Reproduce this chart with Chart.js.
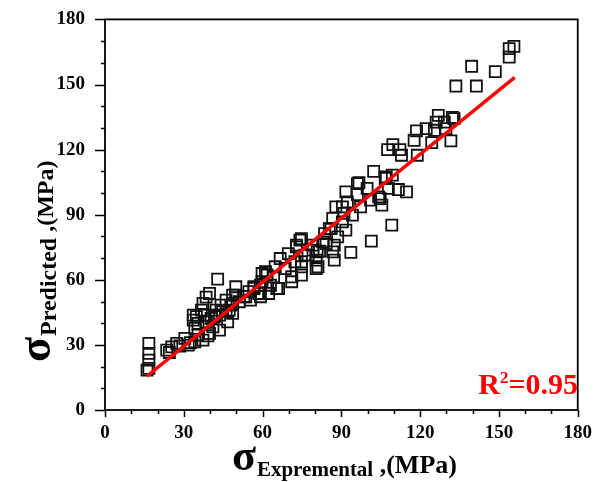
<!DOCTYPE html>
<html>
<head>
<meta charset="utf-8">
<script src="https://cdn.jsdelivr.net/npm/chart.js@4.4.0/dist/chart.umd.min.js"></script>
<style>
  html, body { margin: 0; padding: 0; background: #fff; }
  #wrap { width: 596px; height: 482px; position: relative; }
</style>
</head>
<body>
<div id="wrap"><canvas id="chart" width="596" height="482"></canvas></div>
<script>
// Datos (MPa)
const EXP_VALUES = [
  16.0, 16.7, 16.7, 16.7, 16.7, 23.5, 24.5, 25.4, 27.3, 28.5,
  30.4, 31.7, 32.5, 34.2, 35.4, 37.3, 34.2, 33.6, 34.8, 33.6,
  36.7, 37.3, 39.8, 38.5, 35.4, 38.6, 40.4, 41.7, 43.6, 41.1,
  43.6, 39.8, 39.2, 46.7, 44.8, 48.6, 49.8, 47.3, 37.9, 42.9,
  42.3, 46.1, 41.7, 48.6, 44.2, 47.9, 46.1, 51.1, 55.4, 48.6,
  53.6, 58.6, 62.3, 49.8, 56.7, 65.4, 59.8, 71.1, 64.2, 61.1,
  71.1, 74.8, 59.8, 61.7, 59.2, 64.8, 68.6, 66.7, 72.3, 74.8,
  80.4, 69.8, 72.9, 77.3, 80.8, 74.2, 66.1, 63.0, 76.1, 81.7,
  86.7, 93.6, 87.3, 80.4, 74.8, 81.1, 72.9, 79.2, 84.2, 87.3,
  74.8, 88.6, 83.6, 86.1, 91.7, 90.4, 86.7, 91.0, 94.2, 87.9,
  97.3, 90.4, 92.3, 101.1, 105.4, 104.8, 96.1, 91.7, 99.8, 96.1,
  106.7, 102.3, 109.2, 101.4, 96.7, 107.9, 111.7, 114.8, 104.2, 107.1,
  109.4, 109.6, 107.6, 112.3, 112.9, 118.9, 117.7, 124.4, 131.7, 122.3,
  118.6, 129.8, 125.4, 126.9, 126.1, 129.2, 132.9, 132.3, 133.6, 141.4,
  139.6, 148.6, 153.9, 155.7, 153.9, 52.9, 54.8, 56.7, 59.2, 82.9,
  79.2, 85.4
];
const PRED_VALUES = [
  18.4, 19.2, 23.0, 26.1, 30.7, 27.6, 26.5, 29.1, 30.7, 29.5,
  33.0, 29.9, 31.0, 31.4, 34.5, 32.2, 37.6, 41.4, 43.0, 43.7,
  46.0, 49.1, 53.7, 52.0, 39.9, 40.6, 42.2, 43.7, 43.7, 38.3,
  36.8, 35.3, 34.2, 40.6, 45.3, 49.1, 52.9, 46.0, 43.7, 60.3,
  46.0, 45.3, 43.0, 44.5, 48.3, 48.3, 50.6, 49.9, 50.6, 52.9,
  52.2, 53.7, 53.7, 56.8, 56.8, 56.0, 59.1, 59.1, 61.4, 63.7,
  61.4, 62.2, 62.9, 62.2, 52.2, 66.0, 65.2, 69.8, 68.3, 66.0,
  65.2, 72.1, 75.2, 71.4, 72.9, 78.3, 56.0, 57.5, 71.4, 73.2,
  72.9, 72.6, 69.1, 69.1, 68.3, 66.0, 76.0, 76.0, 76.7, 76.0,
  79.0, 79.8, 81.3, 83.6, 82.9, 86.7, 88.3, 90.6, 89.8, 93.6,
  93.6, 93.6, 95.9, 96.7, 94.4, 97.4, 99.3, 100.5, 102.1, 104.3,
  106.7, 110.0, 85.2, 77.8, 104.8, 102.1, 101.6, 100.5, 98.2, 107.4,
  108.2, 122.3, 120.0, 120.0, 117.4, 117.4, 124.3, 123.2, 124.0, 129.7,
  128.6, 129.7, 128.9, 135.8, 132.7, 132.7, 134.3, 134.8, 149.3, 149.3,
  158.4, 155.9, 166.5, 167.6, 162.6, 52.2, 54.5, 56.0, 57.5, 77.5,
  73.7, 83.6
];
// Recta de ajuste
const FIT_X = [16, 156];
const FIT_Y = [15.6, 153.3];
const AXIS_MIN = 0;
const AXIS_MAX = 180;
const TICK_STEP = 30;
const R2_TEXT = '0.95';

const SERIF = '"Liberation Serif", "Times New Roman", serif';

// Título con subíndice: σ + sub + ,(MPa)
function drawTitle(ctx, sub, bx, by, f) {
  ctx.font = 'bold ' + f.sigma + 'px ' + SERIF;
  ctx.fillText('σ', bx, by);
  let cx = bx + ctx.measureText('σ').width + 1;
  ctx.font = 'bold ' + f.sub + 'px ' + SERIF;
  ctx.fillText(sub, cx, by + f.subDy);
  cx += ctx.measureText(sub).width;
  ctx.font = 'bold ' + f.unit + 'px ' + SERIF;
  ctx.fillText(' ,(MPa)', cx, by + f.unitDy);
}

// Marco, marcas de ejes, títulos y R²
const decor = {
  id: 'decor',
  afterDraw(chart) {
    const { ctx, chartArea: a, scales: { x, y } } = chart;
    ctx.save();
    ctx.strokeStyle = '#000';
    ctx.lineWidth = 1.8;
    ctx.strokeRect(a.left, a.top, a.right - a.left, a.bottom - a.top);

    ctx.lineWidth = 1.5;
    for (let v = AXIS_MIN; v <= AXIS_MAX; v += 10) {
      const major = v % TICK_STEP === 0;
      const px = Math.round(x.getPixelForValue(v)) + 0.5;
      ctx.beginPath();
      ctx.moveTo(px, a.bottom);
      ctx.lineTo(px, a.bottom + (major ? 7 : 4));
      ctx.stroke();
      const py = Math.round(y.getPixelForValue(v)) + 0.5;
      ctx.beginPath();
      ctx.moveTo(a.left, py);
      ctx.lineTo(a.left - (major ? 10 : 4), py);
      ctx.stroke();
    }

    ctx.fillStyle = '#000';
    ctx.textBaseline = 'alphabetic';
    drawTitle(ctx, 'Expremental', 232, 470, { sigma: 44, sub: 21, subDy: 6, unit: 26, unitDy: 3 });
    ctx.save();
    ctx.translate(50, 362);
    ctx.rotate(-Math.PI / 2);
    drawTitle(ctx, 'Predicted', 0, 0, { sigma: 46, sub: 24, subDy: 6, unit: 24, unitDy: 3 });
    ctx.restore();

    // R²
    ctx.fillStyle = '#ff0000';
    ctx.font = 'bold 30px ' + SERIF;
    const tail = '=' + R2_TEXT;
    const wR = ctx.measureText('R').width;
    const wT = ctx.measureText(tail).width;
    ctx.font = 'bold 17px ' + SERIF;
    const w2 = ctx.measureText('2').width;
    const right = 578, base = 394;
    let sx = right - wT - w2 - wR;
    ctx.font = 'bold 30px ' + SERIF;
    ctx.fillText('R', sx, base);
    sx += wR;
    ctx.font = 'bold 17px ' + SERIF;
    ctx.fillText('2', sx, base - 11);
    sx += w2;
    ctx.font = 'bold 30px ' + SERIF;
    ctx.fillText(tail, sx, base);
    ctx.restore();
  }
};

const points = EXP_VALUES.map((v, i) => ({ x: v, y: PRED_VALUES[i] }));
const fitLine = FIT_X.map((v, i) => ({ x: v, y: FIT_Y[i] }));

const axisCommon = {
  type: 'linear',
  min: AXIS_MIN,
  max: AXIS_MAX,
  grid: { display: true, drawOnChartArea: false, drawTicks: true, tickLength: 8, tickColor: 'transparent', color: 'transparent' },
  border: { display: false },
  ticks: { stepSize: TICK_STEP, color: '#000', font: { family: SERIF, size: 19, weight: 'bold' } }
};

new Chart(document.getElementById('chart'), {
  type: 'scatter',
  data: {
    datasets: [
      {
        label: 'fit',
        type: 'line',
        data: fitLine,
        borderColor: '#ff0000',
        borderWidth: 3.4,
        pointRadius: 0,
        fill: false,
        order: 0
      },
      {
        label: 'data',
        data: points,
        pointStyle: 'rect',
        pointRadius: 7.8,
        pointBorderWidth: 1.8,
        pointBorderColor: '#111',
        pointBackgroundColor: 'rgba(255,255,255,0)',
        order: 1
      }
    ]
  },
  options: {
    responsive: false,
    animation: false,
    events: [],
    layout: { padding: { left: 0, right: 11, top: 19, bottom: 0 } },
    plugins: { legend: { display: false }, tooltip: { enabled: false } },
    scales: {
      x: Object.assign({}, axisCommon, {
        ticks: Object.assign({}, axisCommon.ticks, { padding: 4 }),
        afterFit(s) { s.height = 72; }
      }),
      y: Object.assign({}, axisCommon, {
        grid: Object.assign({}, axisCommon.grid, { tickLength: 12 }),
        ticks: Object.assign({}, axisCommon.ticks, { padding: 8 }),
        afterFit(s) { s.width = 105; }
      })
    }
  },
  plugins: [decor]
});
</script>
</body>
</html>
